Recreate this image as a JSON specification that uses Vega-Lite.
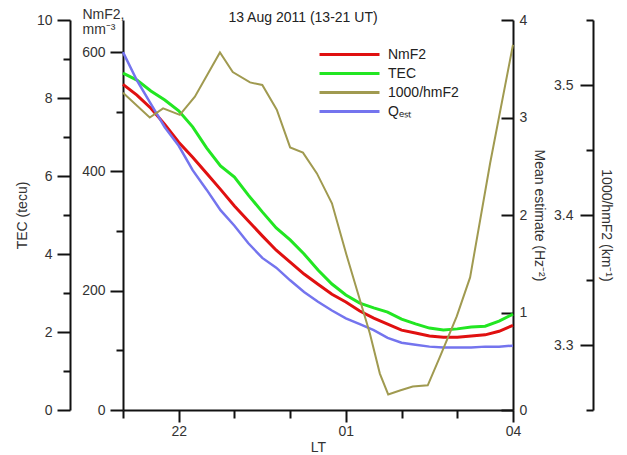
{
  "$schema": "https://vega.github.io/schema/vega-lite/v6.json",
  "width": 390,
  "height": 390,
  "autosize": "none",
  "padding": {"left": 123, "top": 20, "right": 114, "bottom": 45},
  "background": "white",
  "title": {"text": "13 Aug 2011 (13-21 UT)", "frame": "group", "anchor": "middle", "offset": 0, "dy": 18, "dx": -15, "fontSize": 14, "fontWeight": "normal", "font": "Liberation Sans", "color": "#222"},
  "config": {
    "view": {"stroke": null},
    "axis": {"grid": false, "domainColor": "#111", "domainWidth": 2, "tickColor": "#111", "tickWidth": 2, "labelFont": "Liberation Sans", "labelFontSize": 14, "labelColor": "#333", "titleFont": "Liberation Sans", "titleFontSize": 14, "titleFontWeight": "normal", "titleColor": "#333", "labelFlush": false, "labelOverlap": false}
  },
  "data": {"values": [
    {"s": "NmF2", "t": 21, "v": 546}, {"s": "NmF2", "t": 21.25, "v": 528}, {"s": "NmF2", "t": 21.5, "v": 506}, {"s": "NmF2", "t": 21.75, "v": 479},
    {"s": "NmF2", "t": 22, "v": 449}, {"s": "NmF2", "t": 22.25, "v": 424}, {"s": "NmF2", "t": 22.5, "v": 397}, {"s": "NmF2", "t": 22.75, "v": 370},
    {"s": "NmF2", "t": 23, "v": 342}, {"s": "NmF2", "t": 23.25, "v": 317}, {"s": "NmF2", "t": 23.5, "v": 292}, {"s": "NmF2", "t": 23.75, "v": 268},
    {"s": "NmF2", "t": 24, "v": 248}, {"s": "NmF2", "t": 24.25, "v": 228}, {"s": "NmF2", "t": 24.5, "v": 211}, {"s": "NmF2", "t": 24.75, "v": 194},
    {"s": "NmF2", "t": 25, "v": 181}, {"s": "NmF2", "t": 25.25, "v": 166}, {"s": "NmF2", "t": 25.5, "v": 154}, {"s": "NmF2", "t": 25.75, "v": 144},
    {"s": "NmF2", "t": 26, "v": 134}, {"s": "NmF2", "t": 26.25, "v": 129}, {"s": "NmF2", "t": 26.5, "v": 124}, {"s": "NmF2", "t": 26.75, "v": 122},
    {"s": "NmF2", "t": 27, "v": 122}, {"s": "NmF2", "t": 27.25, "v": 124}, {"s": "NmF2", "t": 27.5, "v": 126}, {"s": "NmF2", "t": 27.75, "v": 132},
    {"s": "NmF2", "t": 28, "v": 142},
    {"s": "TEC", "t": 21, "v": 8.64}, {"s": "TEC", "t": 21.25, "v": 8.46}, {"s": "TEC", "t": 21.5, "v": 8.18}, {"s": "TEC", "t": 21.75, "v": 7.95},
    {"s": "TEC", "t": 22, "v": 7.67}, {"s": "TEC", "t": 22.25, "v": 7.26}, {"s": "TEC", "t": 22.5, "v": 6.72}, {"s": "TEC", "t": 22.75, "v": 6.26},
    {"s": "TEC", "t": 23, "v": 5.97}, {"s": "TEC", "t": 23.25, "v": 5.51}, {"s": "TEC", "t": 23.5, "v": 5.08}, {"s": "TEC", "t": 23.75, "v": 4.67},
    {"s": "TEC", "t": 24, "v": 4.36}, {"s": "TEC", "t": 24.25, "v": 4.0}, {"s": "TEC", "t": 24.5, "v": 3.59}, {"s": "TEC", "t": 24.75, "v": 3.23},
    {"s": "TEC", "t": 25, "v": 2.95}, {"s": "TEC", "t": 25.25, "v": 2.74}, {"s": "TEC", "t": 25.5, "v": 2.62}, {"s": "TEC", "t": 25.75, "v": 2.51},
    {"s": "TEC", "t": 26, "v": 2.33}, {"s": "TEC", "t": 26.25, "v": 2.21}, {"s": "TEC", "t": 26.5, "v": 2.1}, {"s": "TEC", "t": 26.75, "v": 2.05},
    {"s": "TEC", "t": 27, "v": 2.08}, {"s": "TEC", "t": 27.25, "v": 2.13}, {"s": "TEC", "t": 27.5, "v": 2.15}, {"s": "TEC", "t": 27.75, "v": 2.28},
    {"s": "TEC", "t": 28, "v": 2.46},
    {"s": "Qₑₛₜ", "t": 21, "v": 3.67}, {"s": "Qₑₛₜ", "t": 21.25, "v": 3.38}, {"s": "Qₑₛₜ", "t": 21.5, "v": 3.14}, {"s": "Qₑₛₜ", "t": 21.75, "v": 2.9},
    {"s": "Qₑₛₜ", "t": 22, "v": 2.71}, {"s": "Qₑₛₜ", "t": 22.25, "v": 2.46}, {"s": "Qₑₛₜ", "t": 22.5, "v": 2.26}, {"s": "Qₑₛₜ", "t": 22.75, "v": 2.05},
    {"s": "Qₑₛₜ", "t": 23, "v": 1.89}, {"s": "Qₑₛₜ", "t": 23.25, "v": 1.71}, {"s": "Qₑₛₜ", "t": 23.5, "v": 1.56}, {"s": "Qₑₛₜ", "t": 23.75, "v": 1.46},
    {"s": "Qₑₛₜ", "t": 24, "v": 1.33}, {"s": "Qₑₛₜ", "t": 24.25, "v": 1.21}, {"s": "Qₑₛₜ", "t": 24.5, "v": 1.11}, {"s": "Qₑₛₜ", "t": 24.75, "v": 1.02},
    {"s": "Qₑₛₜ", "t": 25, "v": 0.94}, {"s": "Qₑₛₜ", "t": 25.25, "v": 0.88}, {"s": "Qₑₛₜ", "t": 25.5, "v": 0.82}, {"s": "Qₑₛₜ", "t": 25.75, "v": 0.74},
    {"s": "Qₑₛₜ", "t": 26, "v": 0.69}, {"s": "Qₑₛₜ", "t": 26.25, "v": 0.67}, {"s": "Qₑₛₜ", "t": 26.5, "v": 0.65}, {"s": "Qₑₛₜ", "t": 26.75, "v": 0.64},
    {"s": "Qₑₛₜ", "t": 27, "v": 0.64}, {"s": "Qₑₛₜ", "t": 27.25, "v": 0.64}, {"s": "Qₑₛₜ", "t": 27.5, "v": 0.65}, {"s": "Qₑₛₜ", "t": 27.75, "v": 0.65},
    {"s": "Qₑₛₜ", "t": 28, "v": 0.66},
    {"s": "1000/hmF2", "t": 21.0, "v": 3.494}, {"s": "1000/hmF2", "t": 21.48, "v": 3.475}, {"s": "1000/hmF2", "t": 21.72, "v": 3.482},
    {"s": "1000/hmF2", "t": 22.02, "v": 3.477}, {"s": "1000/hmF2", "t": 22.29, "v": 3.491}, {"s": "1000/hmF2", "t": 22.74, "v": 3.525},
    {"s": "1000/hmF2", "t": 22.97, "v": 3.51}, {"s": "1000/hmF2", "t": 23.28, "v": 3.502}, {"s": "1000/hmF2", "t": 23.5, "v": 3.5},
    {"s": "1000/hmF2", "t": 23.76, "v": 3.481}, {"s": "1000/hmF2", "t": 24.0, "v": 3.452}, {"s": "1000/hmF2", "t": 24.23, "v": 3.448},
    {"s": "1000/hmF2", "t": 24.48, "v": 3.432}, {"s": "1000/hmF2", "t": 24.75, "v": 3.409}, {"s": "1000/hmF2", "t": 25.02, "v": 3.368},
    {"s": "1000/hmF2", "t": 25.25, "v": 3.335}, {"s": "1000/hmF2", "t": 25.43, "v": 3.309}, {"s": "1000/hmF2", "t": 25.61, "v": 3.278},
    {"s": "1000/hmF2", "t": 25.76, "v": 3.262}, {"s": "1000/hmF2", "t": 25.97, "v": 3.265}, {"s": "1000/hmF2", "t": 26.2, "v": 3.268},
    {"s": "1000/hmF2", "t": 26.47, "v": 3.269}, {"s": "1000/hmF2", "t": 26.69, "v": 3.291}, {"s": "1000/hmF2", "t": 26.99, "v": 3.322},
    {"s": "1000/hmF2", "t": 27.23, "v": 3.352}, {"s": "1000/hmF2", "t": 27.59, "v": 3.44}, {"s": "1000/hmF2", "t": 28.0, "v": 3.531}
  ]},
  "encoding": {
    "x": {"field": "t", "type": "quantitative", "scale": {"domain": [21, 28], "nice": false, "zero": false},
      "axis": {"values": [21, 22, 23, 24, 25, 26, 27, 28], "title": "LT", "titlePadding": 2,
        "labelExpr": "datum.value == 22 ? '22' : datum.value == 25 ? '01' : datum.value == 28 ? '04' : ''",
        "tickSize": {"condition": {"test": "datum.value == 22 || datum.value == 25 || datum.value == 28", "value": 12}, "value": 8},
        "labelPadding": 2}},
    "color": {"field": "s", "type": "nominal",
      "scale": {"domain": ["NmF2", "TEC", "1000/hmF2", "Qₑₛₜ"], "range": ["#e01010", "#22e622", "#a09a50", "#7474ee"]},
      "legend": {"orient": "none", "legendX": 215, "legendY": 23, "title": null, "padding": 0, "symbolType": "M-3,0H3", "symbolSize": 400, "symbolStrokeWidth": 3, "labelFontSize": 14, "labelFont": "Liberation Sans", "labelColor": "#222", "labelOffset": 27, "rowPadding": 0}}
  },
  "layer": [
    {
      "transform": [{"filter": "datum.s == 'TEC'"}],
      "mark": {"type": "line", "strokeWidth": 3},
      "encoding": {"y": {"field": "v", "type": "quantitative", "scale": {"domain": [0, 10], "nice": false},
        "axis": {"orient": "left", "offset": 53, "values": [0, 1, 2, 3, 4, 5, 6, 7, 8, 9, 10], "title": "TEC (tecu)",
          "labelExpr": "datum.value % 2 == 0 ? datum.label : ''",
          "tickSize": {"condition": {"test": "datum.value % 2 == 0", "value": 13}, "value": 7},
          "labelPadding": 5, "titleAngle": -90, "titleX": -48, "titleY": 195, "titleAlign": "center", "titleBaseline": "middle"}}}
    },
    {
      "transform": [{"filter": "datum.s == 'NmF2'"}],
      "mark": {"type": "line", "strokeWidth": 3},
      "encoding": {"y": {"field": "v", "type": "quantitative", "scale": {"domain": [0, 654], "nice": false},
        "axis": {"orient": "left", "offset": 0, "values": [0, 100, 200, 300, 400, 500, 600], "title": ["NmF2,", "mm⁻³"],
          "labelExpr": "datum.value % 200 == 0 ? datum.label : ''",
          "tickSize": {"condition": {"test": "datum.value % 200 == 0", "value": 13}, "value": 7},
          "labelPadding": 5, "titleAngle": 0, "titleX": -41, "titleY": -2, "titleAlign": "left", "titleBaseline": "alphabetic", "titleLineHeight": 15}}}
    },
    {
      "transform": [{"filter": "datum.s == 'Qₑₛₜ'"}],
      "mark": {"type": "line", "strokeWidth": 2.5},
      "encoding": {"y": {"field": "v", "type": "quantitative", "scale": {"domain": [0, 4], "nice": false},
        "axis": {"orient": "right", "offset": 0, "values": [0, 0.5, 1, 1.5, 2, 2.5, 3, 3.5, 4], "format": "d", "title": "Mean estimate (Hz⁻²)",
          "labelExpr": "datum.value % 1 == 0 ? datum.label : ''",
          "tickSize": {"condition": {"test": "datum.value % 1 == 0", "value": -12}, "value": -7},
          "labelPadding": 18, "titleAngle": 90, "titleX": 25, "titleY": 195, "titleAlign": "center", "titleBaseline": "middle"}}}
    },
    {
      "transform": [{"filter": "datum.s == '1000/hmF2'"}],
      "mark": {"type": "line", "strokeWidth": 2},
      "encoding": {"y": {"field": "v", "type": "quantitative", "scale": {"domain": [3.25, 3.55], "nice": false, "zero": false},
        "axis": {"orient": "left", "offset": -470, "values": [3.25, 3.3, 3.35, 3.4, 3.45, 3.5, 3.55], "format": ".1f", "title": "1000/hmF2 (km⁻¹)",
          "labelExpr": "abs(datum.value * 10 - round(datum.value * 10)) < 0.001 ? datum.label : ''",
          "tickSize": {"condition": {"test": "abs(datum.value * 10 - round(datum.value * 10)) < 0.001", "value": 13}, "value": 7},
          "labelPadding": 7, "titleAngle": 90, "titleX": 12, "titleY": 205, "titleAlign": "center", "titleBaseline": "middle"}}}
    }
  ],
  "resolve": {"scale": {"y": "independent"}, "axis": {"y": "independent"}}
}
